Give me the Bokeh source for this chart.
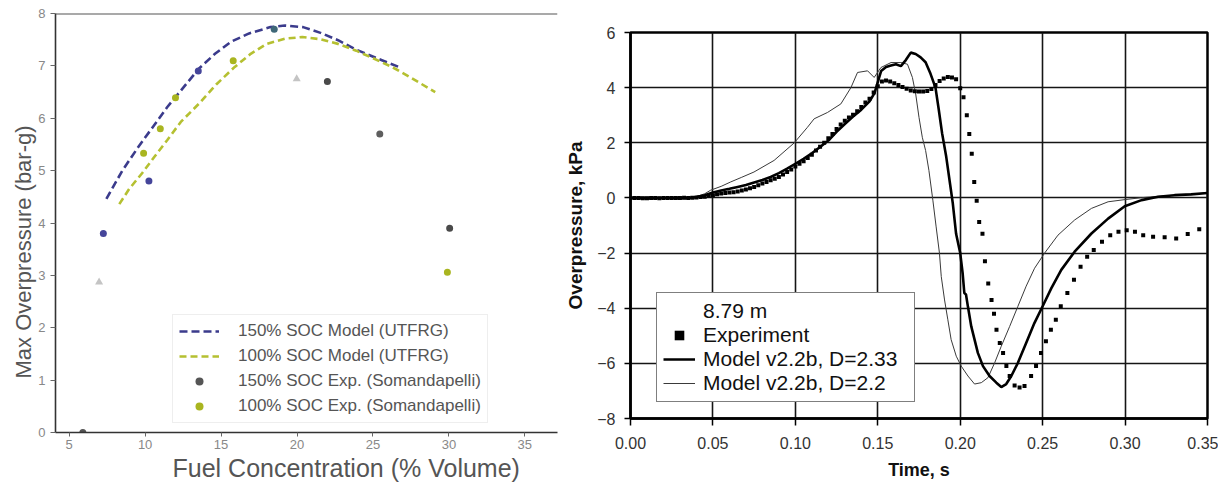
from bokeh.plotting import figure
from bokeh.layouts import row
from bokeh.models import (Range1d, FixedTicker, Legend, LegendItem, Span,
                          Title, ColumnDataSource, NumeralTickFormatter)
from bokeh.embed import file_html
from bokeh.resources import INLINE

FONT = "Liberation Sans"

# ---------------- left panel data ----------------
soc150_model_x = [7.45, 8.5, 9.55, 10.5, 11.45, 12.5, 13.55, 14.6, 15.65, 16.85, 18.25, 19.2,
                  20.4, 21.55, 22.7, 23.9, 25.3, 26.8]
soc150_model_y = [4.46, 5.0, 5.45, 5.83, 6.21, 6.58, 6.95, 7.23, 7.46, 7.62, 7.74, 7.77,
                  7.74, 7.63, 7.49, 7.31, 7.14, 6.97]
soc100_model_x = [8.3, 8.95, 9.8, 10.6, 11.45, 12.35, 13.55, 14.7, 15.9, 16.95, 18.0, 19.2,
                  20.35, 21.5, 22.7, 23.9, 25.05, 26.25, 27.4, 29.1]
soc100_model_y = [4.36, 4.65, 4.95, 5.26, 5.58, 5.93, 6.28, 6.65, 6.98, 7.23, 7.42, 7.52,
                  7.55, 7.51, 7.42, 7.29, 7.14, 6.98, 6.79, 6.5]
soc150_exp_x = [5.9, 7.25, 10.25, 13.5, 18.5, 22.0, 25.45, 30.05]
soc150_exp_y = [0.0, 3.8, 4.8, 6.9, 7.7, 6.7, 5.7, 3.9]
soc100_exp_x = [9.9, 11.0, 12.0, 15.8, 29.9]
soc100_exp_y = [5.33, 5.8, 6.39, 7.1, 3.06]
faint_x = [6.97, 19.98]
faint_y = [2.87, 6.75]
left_x_ticks = [5, 10, 15, 20, 25, 30, 35]
left_y_ticks = [0, 1, 2, 3, 4, 5, 6, 7, 8]

# ---------------- right panel data ----------------
exp_t = [0.0, 0.0025, 0.005, 0.0075, 0.01, 0.0125, 0.015, 0.0175, 0.02, 0.0225, 0.025, 0.0275,
         0.03, 0.0325, 0.035, 0.0375, 0.04, 0.0425, 0.045, 0.0475, 0.05, 0.0525, 0.055, 0.0575,
         0.06, 0.0625, 0.065, 0.0675, 0.07, 0.0725, 0.075, 0.0775, 0.08, 0.0825, 0.085, 0.0875,
         0.09, 0.0925, 0.095, 0.0975, 0.1, 0.1025, 0.105, 0.1075, 0.11, 0.1125, 0.115, 0.1175,
         0.12, 0.1225, 0.125, 0.1275, 0.13, 0.1325, 0.135, 0.1375, 0.14, 0.1425, 0.145, 0.1475,
         0.15, 0.1525, 0.155, 0.1575, 0.16, 0.1625, 0.165, 0.1675, 0.17, 0.1725, 0.175, 0.1775,
         0.18, 0.1825, 0.185, 0.1875, 0.19, 0.1925, 0.195, 0.1975, 0.2, 0.202, 0.204, 0.2055,
         0.207, 0.2085, 0.21, 0.2115, 0.2135, 0.215, 0.217, 0.219, 0.2205, 0.222, 0.224, 0.226,
         0.228, 0.23, 0.233, 0.236, 0.239, 0.243, 0.246, 0.249, 0.252, 0.255, 0.258, 0.261,
         0.265, 0.269, 0.273, 0.277, 0.281, 0.286, 0.291, 0.296, 0.301, 0.306, 0.311, 0.317,
         0.324, 0.331, 0.338, 0.345]
exp_p = [0.0, 0.0, 0.0, -0.01, -0.01, 0.0, 0.0, -0.01, 0.0, 0.0, 0.0, 0.0,
         0.0, 0.01, 0.0, 0.01, 0.02, 0.03, 0.04, 0.08, 0.1, 0.13, 0.16, 0.18,
         0.2, 0.21, 0.23, 0.27, 0.31, 0.35, 0.4, 0.46, 0.52, 0.58, 0.64, 0.7,
         0.76, 0.85, 0.94, 1.03, 1.14, 1.24, 1.33, 1.45, 1.57, 1.72, 1.86, 2.0,
         2.16, 2.32, 2.5, 2.66, 2.8, 2.92, 3.02, 3.14, 3.3, 3.46, 3.6, 3.82,
         4.05, 4.22, 4.26, 4.22, 4.16, 4.1, 4.02, 3.96, 3.9, 3.87, 3.86, 3.86,
         3.88, 3.95, 4.1, 4.24, 4.33, 4.39, 4.37, 4.3, 3.98, 3.65, 3.0, 2.32,
         1.6, 0.58, -0.1, -0.87, -1.3, -2.3, -3.1, -3.7, -4.2, -4.78, -5.26, -5.62,
         -6.1, -6.46, -6.8, -6.88, -6.82, -6.46, -6.1, -5.62, -5.2, -4.78, -4.42, -3.93,
         -3.45, -2.97, -2.5, -2.13, -1.89, -1.59, -1.35, -1.23, -1.17, -1.23, -1.35, -1.41,
         -1.43, -1.47, -1.31, -1.14]

d233_t = [0.0, 0.02, 0.035, 0.04, 0.045, 0.05, 0.055, 0.06, 0.065, 0.07, 0.075, 0.08, 0.085,
          0.09, 0.095, 0.1, 0.105, 0.11, 0.115, 0.12, 0.125, 0.13, 0.135, 0.14, 0.145, 0.148,
          0.15, 0.152, 0.155, 0.158, 0.161, 0.164, 0.167, 0.17, 0.173, 0.176, 0.179, 0.182,
          0.185, 0.187, 0.189, 0.1915, 0.1935, 0.1955, 0.1975, 0.2, 0.2015, 0.2025, 0.2035,
          0.2047, 0.2067, 0.2087, 0.2107, 0.2138, 0.2178, 0.2219, 0.2249, 0.2279, 0.231,
          0.235, 0.24, 0.245, 0.25, 0.2553, 0.2613, 0.2694, 0.2796, 0.2897, 0.2998, 0.31,
          0.32, 0.33, 0.34, 0.35]
d233_p = [0.0, 0.0, 0.0, 0.03, 0.1, 0.2, 0.27, 0.33, 0.4, 0.47, 0.56, 0.65, 0.76,
          0.9, 1.06, 1.24, 1.42, 1.62, 1.85, 2.08, 2.4, 2.68, 2.95, 3.2, 3.5, 3.8,
          4.2, 4.6, 4.75, 4.8, 4.85, 4.78, 5.0, 5.27, 5.22, 5.1, 4.92, 4.5,
          4.0, 3.2, 2.35, 1.5, 0.65, -0.2, -1.3, -2.0, -2.75, -3.45, -3.5,
          -3.95, -4.66, -5.14, -5.62, -6.1, -6.46, -6.7, -6.86, -6.75, -6.46,
          -5.98, -5.26, -4.54, -3.93, -3.27, -2.61, -1.95, -1.29, -0.75, -0.3, -0.08,
          0.04, 0.1, 0.13, 0.18]

d22_t = [0.0, 0.035, 0.04, 0.045, 0.0486, 0.055, 0.0608, 0.0675, 0.0749, 0.0871, 0.0992,
         0.1073, 0.1114, 0.1195, 0.1276, 0.1337, 0.1377, 0.1438, 0.1478, 0.1519, 0.158, 0.164,
         0.168, 0.171, 0.173, 0.175, 0.177, 0.179, 0.181, 0.1834, 0.1854, 0.1874, 0.1885,
         0.1905, 0.1925, 0.1945, 0.1976, 0.2006, 0.2047, 0.2087, 0.2128, 0.2168, 0.2209,
         0.2249, 0.23, 0.235, 0.24, 0.2451, 0.2512, 0.2593, 0.2694, 0.2796, 0.2897, 0.3,
         0.31, 0.33, 0.35]
d22_p = [0.0, 0.0, 0.05, 0.15, 0.28, 0.42, 0.58, 0.75, 0.94, 1.36, 1.99,
         2.56, 2.87, 3.1, 3.41, 4.0, 4.55, 4.61, 4.37, 4.73, 4.91, 4.91,
         4.85, 4.37, 3.77, 2.92, 2.2, 1.72, 1.0, -0.08, -1.05, -2.0, -2.85,
         -3.7, -4.42, -5.14, -5.74, -6.1, -6.46, -6.75, -6.7, -6.52, -5.98,
         -5.38, -4.66, -3.93, -3.2, -2.55, -2.0, -1.35, -0.8, -0.38, -0.14, -0.06,
         0.01, 0.1, 0.18]
right_x_ticks = [0.0, 0.05, 0.1, 0.15, 0.2, 0.25, 0.3, 0.35]
right_y_ticks = [-8, -6, -4, -2, 0, 2, 4, 6]

# ---------------- styles ----------------
soc150_point_colors = ["#555555", "#45459a", "#45459a", "#45459a", "#3f6878",
                       "#4a4a4a", "#5e5e5e", "#4a4a4a"]

# ================= left figure =================
p1 = figure(width=560, height=484, output_backend="svg", toolbar_location=None, title=None,
            x_range=Range1d(4.1, 37.15), y_range=Range1d(0, 8),
            min_border_left=55, min_border_right=3, min_border_top=13, min_border_bottom=52)
p1.frame_align = False
p1.outline_line_color = None
p1.grid.visible = False
p1.background_fill_color = "white"
p1.border_fill_color = "white"

for ax, ticks in ((p1.xaxis, left_x_ticks), (p1.yaxis, left_y_ticks)):
    ax.ticker = FixedTicker(ticks=ticks)
    ax.axis_line_color = "#333333"
    ax.axis_line_width = 1.6
    ax.major_tick_line_color = "#666666"
    ax.major_tick_in = 0
    ax.minor_tick_line_color = None
    ax.major_label_text_font = FONT
    ax.major_label_text_font_size = "13px"
    ax.major_label_text_color = "#888888"
p1.xaxis.major_tick_out = 4
p1.xaxis.major_label_standoff = 3
p1.yaxis.major_tick_out = 5
p1.yaxis.major_label_standoff = 5

p1.add_layout(Span(location=8, dimension="width", line_color="#555555", line_width=2.2))

p1.add_layout(Title(text="Max Overpressure (bar-g)", align="left", offset=54,
                    text_font=FONT, text_font_size="22px", text_font_style="normal",
                    text_color="#555555", standoff=0), "left")
p1.add_layout(Title(text="Fuel Concentration (% Volume)", align="left", offset=117,
                    text_font=FONT, text_font_size="25px", text_font_style="normal",
                    text_color="#555555", standoff=0), "below")

r150m = p1.line(soc150_model_x, soc150_model_y, line_color="#3b3b8c", line_width=2.6,
                line_dash="8 4")
r100m = p1.line(soc100_model_x, soc100_model_y, line_color="#b5c031", line_width=2.6,
                line_dash="7 4")
p1.scatter(faint_x, faint_y, marker="triangle", size=8, fill_color="#c4c4c4",
           line_color=None)
src150 = ColumnDataSource(dict(x=soc150_exp_x, y=soc150_exp_y, c=soc150_point_colors))
r150e = p1.scatter("x", "y", source=src150, size=7, fill_color="c", line_color=None)
r100e = p1.scatter(soc100_exp_x, soc100_exp_y, size=7, fill_color="#a9b520", line_color=None)

leg1 = Legend(items=[LegendItem(label="150% SOC Model (UTFRG)", renderers=[r150m]),
                     LegendItem(label="100% SOC Model (UTFRG)", renderers=[r100m]),
                     LegendItem(label="150% SOC Exp. (Somandapelli)", renderers=[r150e], index=0),
                     LegendItem(label="100% SOC Exp. (Somandapelli)", renderers=[r100e])],
              location=(117, 9), border_line_color="#dddddd", border_line_width=1,
              background_fill_color="white", background_fill_alpha=0.9,
              padding=6, spacing=5, margin=0, glyph_width=40, glyph_height=20,
              label_height=20, label_standoff=19, label_text_font=FONT,
              label_text_font_size="17px", label_text_color="#555555")
p1.add_layout(leg1)

# ================= right figure =================
p2 = figure(width=658, height=484, output_backend="svg", toolbar_location=None, title=None,
            x_range=Range1d(0, 0.35), y_range=Range1d(-8, 6),
            min_border_left=70, min_border_right=11, min_border_top=32, min_border_bottom=66)
p2.frame_align = False
p2.outline_line_color = "black"
p2.outline_line_width = 2.5
p2.background_fill_color = "white"
p2.border_fill_color = "white"

p2.xaxis.ticker = FixedTicker(ticks=right_x_ticks)
p2.yaxis.ticker = FixedTicker(ticks=right_y_ticks)
p2.xgrid.ticker = FixedTicker(ticks=right_x_ticks)
p2.ygrid.ticker = FixedTicker(ticks=right_y_ticks)
p2.xaxis.formatter = NumeralTickFormatter(format="0.00")
for g in (p2.xgrid, p2.ygrid):
    g.grid_line_color = "#151515"
    g.grid_line_width = 1.6
    g.grid_line_alpha = 1.0
for ax in (p2.xaxis, p2.yaxis):
    ax.axis_line_color = "black"
    ax.axis_line_width = 2.5
    ax.major_tick_line_color = "black"
    ax.major_tick_line_width = 1.5
    ax.major_tick_in = 0
    ax.minor_tick_line_color = None
    ax.major_label_text_font = FONT
    ax.major_label_text_font_size = "16px"
    ax.major_label_text_color = "#333333"
    ax.axis_label_text_font = FONT
    ax.axis_label_text_font_style = "bold"
    ax.axis_label_text_color = "#111111"
p2.xaxis.major_tick_out = 7
p2.xaxis.major_label_standoff = 11
p2.yaxis.major_tick_out = 6
p2.yaxis.major_label_standoff = 9
p2.xaxis.axis_label = "Time, s"
p2.xaxis.axis_label_text_font_size = "18px"
p2.xaxis.axis_label_standoff = 8
p2.yaxis.axis_label = "Overpressure, kPa"
p2.yaxis.axis_label_text_font_size = "19px"
p2.yaxis.axis_label_standoff = 8

r_title = p2.line([], [], line_alpha=0)
r_thin = p2.line(d22_t, d22_p, line_color="#3a3a3a", line_width=1.0)
r_thick = p2.line(d233_t, d233_p, line_color="black", line_width=2.6)
r_exp = p2.scatter(exp_t, exp_p, marker="square", size=4, fill_color="black", line_color=None)

leg2 = Legend(items=[LegendItem(label="8.79 m", renderers=[r_title]),
                     LegendItem(label="Experiment", renderers=[r_exp]),
                     LegendItem(label="Model v2.2b, D=2.33", renderers=[r_thick]),
                     LegendItem(label="Model v2.2b, D=2.2", renderers=[r_thin])],
              location=(26, 16), border_line_color="black", border_line_width=1.5,
              background_fill_color="white", background_fill_alpha=1.0,
              padding=6, spacing=0, margin=0, glyph_width=32, glyph_height=24,
              label_height=24, label_width=205, label_standoff=8, label_text_font=FONT,
              label_text_font_size="21px", label_text_color="#111111")
p2.add_layout(leg2)

layout = row(p1, p2)
open("out.html", "w").write(file_html(layout, INLINE))
